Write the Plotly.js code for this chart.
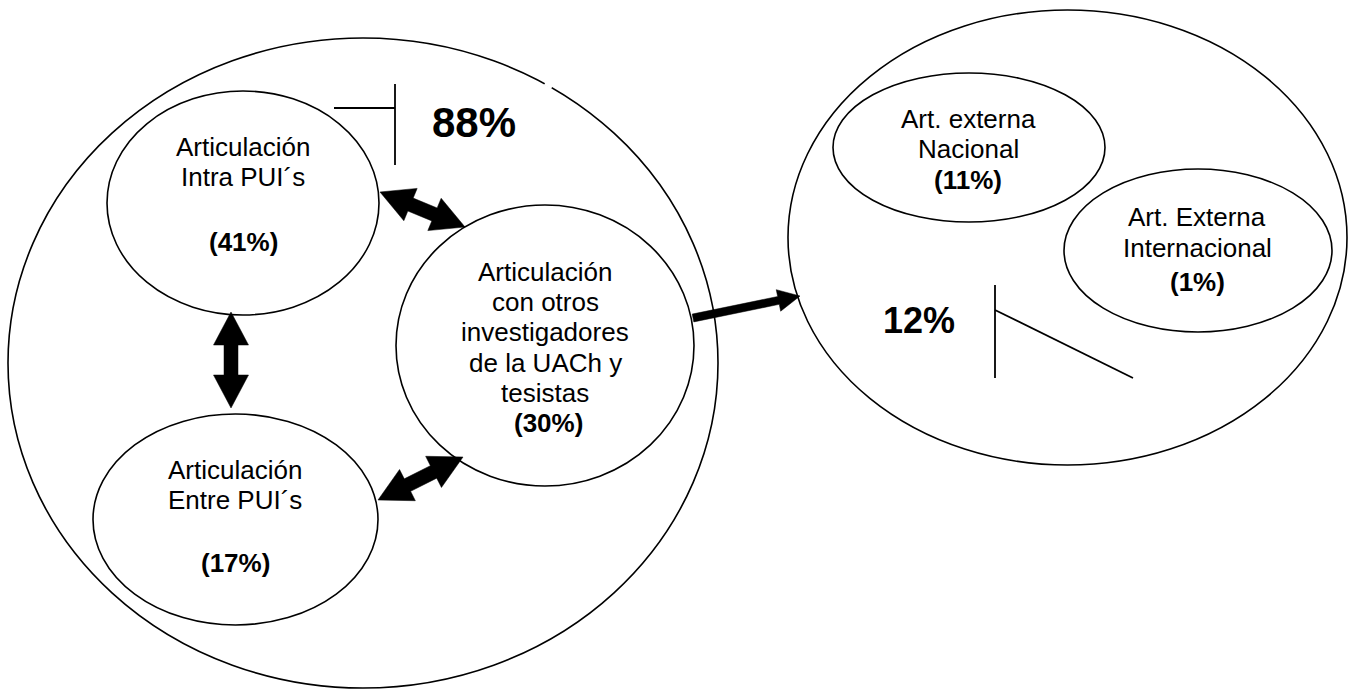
<!DOCTYPE html>
<html><head><meta charset="utf-8">
<script src="https://cdn.plot.ly/plotly-3.0.1.min.js"></script>
<style>html,body{margin:0;padding:0;background:#fff;overflow:hidden}#chart{width:1353px;height:692px;}</style>
</head><body><div id="chart"></div>
<script>
// ---------- data ----------
const nodeLabels = [
  ["Articulación", "Intra PUI´s"],
  ["Articulación", "Entre PUI´s"],
  ["Articulación", "con otros", "investigadores", "de la UACh y", "tesistas"],
  ["Art. externa", "Nacional"],
  ["Art. Externa", "Internacional"]
];
const nodePercents = [41, 17, 30, 11, 1];
const groupTotals = [88, 12];

// ---------- layout geometry (pixels) ----------
const W = 1353, H = 692;
const FONT = "Liberation Sans, Arial, sans-serif";
const groupBoxes = [[8, 38, 718, 688], [788, 10, 1347, 465]];
const nodeBoxes = [
  [107, 91, 379, 315],
  [93, 414, 378, 625],
  [396, 205, 694, 486],
  [833, 73, 1105, 222],
  [1064, 169, 1332, 332]
];
const nodeText = [
  {x: 243, ys: [147, 177], py: 242},
  {x: 235, ys: [470, 500], py: 563},
  {x: 545, ys: [272, 302, 332, 363, 393], py: 423, px: 548},
  {x: 968, ys: [119, 149], py: 180},
  {x: 1197, ys: [217, 248], py: 282}
];
const groupText = [{x: 474, y: 122, size: 42}, {x: 919, y: 320, size: 36}];
const brackets = [
  [[334, 108, 395, 108], [395, 84, 395, 165]],
  [[995, 285, 995, 378], [995, 310, 1133, 378]]
];
const doubleArrows = [[380, 192, 465, 227], [231, 312, 231, 408], [378, 500, 463, 457]];
const singleArrows = [[693, 318, 800, 296]];

function arrowPath(x1, y1, x2, y2, shaftW, headW, headL, both) {
  const dx = x2 - x1, dy = y2 - y1, L = Math.hypot(dx, dy);
  const ux = dx / L, uy = dy / L, nx = -uy, ny = ux;
  const P = (bx, by, a, b) => [bx + ux * a + nx * b, by + uy * a + ny * b];
  let pts = [];
  if (both) {
    pts.push(P(x1, y1, 0, 0));
    pts.push(P(x1, y1, headL, headW / 2));
    pts.push(P(x1, y1, headL, shaftW / 2));
  } else {
    pts.push(P(x1, y1, 0, shaftW / 2));
  }
  pts.push(P(x2, y2, -headL, shaftW / 2));
  pts.push(P(x2, y2, -headL, headW / 2));
  pts.push(P(x2, y2, 0, 0));
  pts.push(P(x2, y2, -headL, -headW / 2));
  pts.push(P(x2, y2, -headL, -shaftW / 2));
  if (both) {
    pts.push(P(x1, y1, headL, -shaftW / 2));
    pts.push(P(x1, y1, headL, -headW / 2));
  } else {
    pts.push(P(x1, y1, 0, -shaftW / 2));
  }
  return 'M ' + pts.map(p => p[0].toFixed(2) + ',' + p[1].toFixed(2)).join(' L ') + ' Z';
}

const shapes = [];
const lineStyle = {color: '#000', width: 1.6};
groupBoxes.concat(nodeBoxes).forEach(b => {
  shapes.push({type: 'circle', xref: 'x', yref: 'y', x0: b[0], y0: b[1], x1: b[2], y1: b[3],
    line: lineStyle, fillcolor: 'rgba(0,0,0,0)'});
});
// small gap in the outer left ellipse
shapes.push({type: 'line', xref: 'x', yref: 'y', x0: 545, y0: 83.3, x1: 552, y1: 87.2,
  line: {color: '#fff', width: 4}});
brackets.forEach(br => br.forEach(s => {
  shapes.push({type: 'line', xref: 'x', yref: 'y', x0: s[0], y0: s[1], x1: s[2], y1: s[3],
    line: {color: '#000', width: 1.8}});
}));
doubleArrows.forEach(a => {
  shapes.push({type: 'path', xref: 'x', yref: 'y', path: arrowPath(a[0], a[1], a[2], a[3], 14, 35, 33, true),
    fillcolor: '#000', line: {color: '#000', width: 0.5}});
});
singleArrows.forEach(a => {
  shapes.push({type: 'path', xref: 'x', yref: 'y', path: arrowPath(a[0], a[1], a[2], a[3], 8, 22, 22, false),
    fillcolor: '#000', line: {color: '#000', width: 0.5}});
});

const annotations = [];
nodeLabels.forEach((lines, i) => {
  const t = nodeText[i];
  lines.forEach((ln, j) => {
    annotations.push({xref: 'x', yref: 'y', x: t.x, y: t.ys[j], text: ln, showarrow: false,
      xanchor: 'center', yanchor: 'middle', font: {family: FONT, size: 26, color: '#000'}});
  });
  annotations.push({xref: 'x', yref: 'y', x: (t.px !== undefined ? t.px : t.x), y: t.py,
    text: '<b>(' + nodePercents[i] + '%)</b>', showarrow: false,
    xanchor: 'center', yanchor: 'middle', font: {family: FONT, size: 26, color: '#000'}});
});
groupTotals.forEach((v, i) => {
  const g = groupText[i];
  annotations.push({xref: 'x', yref: 'y', x: g.x, y: g.y, text: '<b>' + v + '%</b>', showarrow: false,
    xanchor: 'center', yanchor: 'middle', font: {family: FONT, size: g.size, color: '#000'}});
});

const ax = {visible: false, showgrid: false, zeroline: false, fixedrange: true};
const layout = {
  width: W, height: H,
  margin: {l: 0, r: 0, t: 0, b: 0, pad: 0},
  paper_bgcolor: '#fff', plot_bgcolor: '#fff',
  xaxis: Object.assign({range: [0, W]}, ax),
  yaxis: Object.assign({range: [H, 0]}, ax),
  showlegend: false,
  shapes: shapes,
  annotations: annotations
};
Plotly.newPlot('chart', [{x: [], y: [], type: 'scatter', mode: 'markers', hoverinfo: 'skip'}], layout,
  {displayModeBar: false, staticPlot: true});
</script>
</body></html>
